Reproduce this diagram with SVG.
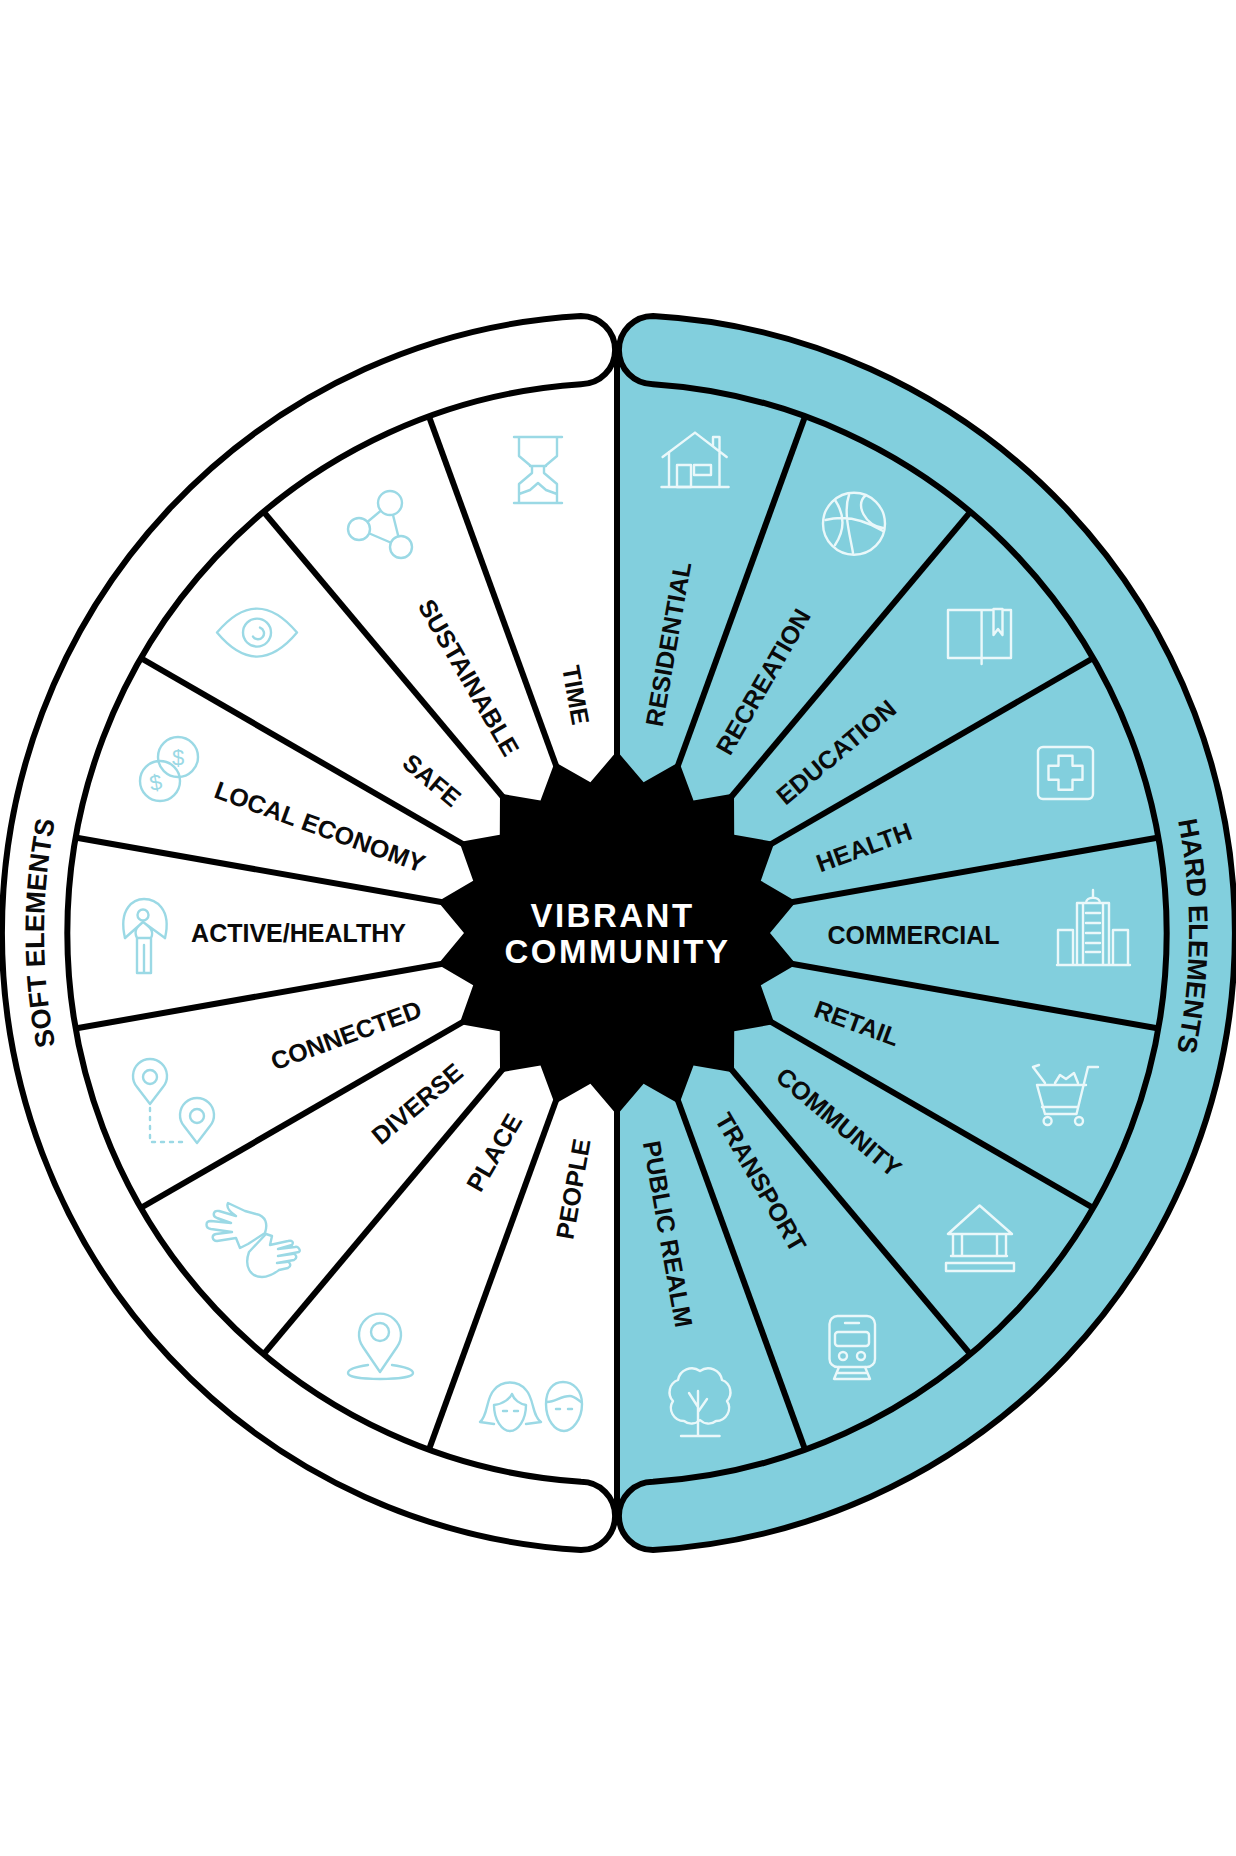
<svg xmlns="http://www.w3.org/2000/svg" width="1236" height="1856" viewBox="0 0 1236 1856">
<style>
.lb{font-family:"Liberation Sans",Arial,sans-serif;font-weight:700;font-size:25px;fill:#0a0a0a;text-anchor:middle}
.band{font-family:"Liberation Sans",Arial,sans-serif;font-weight:700;font-size:27px;fill:#0a0a0a;text-anchor:middle}
.ctr{font-family:"Liberation Sans",Arial,sans-serif;font-weight:700;font-size:33px;letter-spacing:2.5px;fill:#fff;text-anchor:middle}
.bd{stroke:#000;stroke-width:6;stroke-linejoin:round}
.sp{stroke:#000;stroke-width:6;fill:none}
.ic{fill:none;stroke:#9bd9e5;stroke-width:2.4;stroke-linejoin:round;stroke-linecap:round}
.iw{fill:none;stroke:#eaf8fa;stroke-width:2.4;stroke-linejoin:round;stroke-linecap:round}
.dol{font-family:"Liberation Sans",Arial,sans-serif;font-size:22px;fill:#9bd9e5;text-anchor:middle}
</style>
<defs>
<path id="pin" d="M0,27 L-13,10 A17,17 0 1 1 13,10 Z"/>
<path id="softArc" d="M120.8,1219.5 A573,573 0 0 1 120.8,646.5"/>
<path id="hardArc" d="M1112.4,647 A572,572 0 0 1 1112.4,1219"/>
</defs>
<rect width="1236" height="1856" fill="#fff"/>
<path id="hard-disc" d="M617,345 H660 V392 L617,392 Z M617,383 A550,550 0 0 1 617,1483 Z M617,1474 H660 V1521 H617 Z" fill="#82cfdd"/>

<g id="soft-elements">
<path class="bd" fill="#fff" d="M581,316 A614,618 0 0 0 581,1550 A34,34 0 0 0 581,1481.8 A550,550 0 0 1 581,384.2 A34,34 0 0 0 581,316 Z"/>
<text class="band"><textPath href="#softArc" startOffset="50%">SOFT ELEMENTS</textPath></text>
</g>
<g id="hard-elements">
<path class="bd" fill="#82cfdd" d="M653,316 A617,618 0 0 1 653,1550 A34,34 0 0 1 653,1481.8 A550,550 0 0 0 653,384.2 A34,34 0 0 1 653,316 Z"/>
<text class="band"><textPath href="#hardArc" startOffset="50.5%">HARD ELEMENTS</textPath></text>
</g>

<g id="connectors" transform="translate(617,933)">
<line class="sp" x1="0" y1="-170" x2="0" y2="-585"/>
<line class="sp" x1="0" y1="170" x2="0" y2="585"/>
<g class="spokes">
<line class="sp" y1="-170" y2="-550" transform="rotate(20)"/>
<line class="sp" y1="-170" y2="-550" transform="rotate(40)"/>
<line class="sp" y1="-170" y2="-550" transform="rotate(60)"/>
<line class="sp" y1="-170" y2="-550" transform="rotate(80)"/>
<line class="sp" y1="-170" y2="-550" transform="rotate(100)"/>
<line class="sp" y1="-170" y2="-550" transform="rotate(120)"/>
<line class="sp" y1="-170" y2="-550" transform="rotate(140)"/>
<line class="sp" y1="-170" y2="-550" transform="rotate(160)"/>
<line class="sp" y1="-170" y2="-550" transform="rotate(-20)"/>
<line class="sp" y1="-170" y2="-550" transform="rotate(-40)"/>
<line class="sp" y1="-170" y2="-550" transform="rotate(-60)"/>
<line class="sp" y1="-170" y2="-550" transform="rotate(-80)"/>
<line class="sp" y1="-170" y2="-550" transform="rotate(-100)"/>
<line class="sp" y1="-170" y2="-550" transform="rotate(-120)"/>
<line class="sp" y1="-170" y2="-550" transform="rotate(-140)"/>
<line class="sp" y1="-170" y2="-550" transform="rotate(-160)"/>
</g>
</g>

<g id="vibrant-community">
<polygon transform="translate(617,933)" fill="#000" points="0,-182 26.6,-150.7 62.2,-171 76.5,-132.5 117,-139.4 117.2,-98.3 157.6,-91 143.8,-52.3 179.2,-31.6 153,0 179.2,31.6 143.8,52.3 157.6,91 117.2,98.3 117,139.4 76.5,132.5 62.2,171 26.6,150.7 0,182 -26.6,150.7 -62.2,171 -76.5,132.5 -117,139.4 -117.2,98.3 -157.6,91 -143.8,52.3 -179.2,31.6 -153,0 -179.2,-31.6 -143.8,-52.3 -157.6,-91 -117.2,-98.3 -117,-139.4 -76.5,-132.5 -62.2,-171 -26.6,-150.7"/>
<text class="ctr" x="612.5" y="927">VIBRANT</text>
<text class="ctr" x="617.5" y="963">COMMUNITY</text>
</g>

<g id="time">
<text class="lb" transform="translate(576,695) rotate(80)" y="9">TIME</text>
<path class="ic" transform="translate(538,470)" d="M-24,-33 H24 M-24,33 H24 M-19,-33 V-14 L-6,-3 V3 L-19,14 V33 M19,-33 V-14 L6,-3 V3 L19,14 V33 M-8,-4 H8 M-19,24 L-8,20 L0,13 L8,20 L19,24"/>
</g>
<g id="sustainable">
<text class="lb" transform="translate(469,677.5) rotate(60)" y="9">SUSTAINABLE</text>
<g class="ic"><path d="M359,529 L390,503 L401,547 Z"/><circle cx="390" cy="503" r="12" fill="#fff"/><circle cx="359" cy="529" r="11" fill="#fff"/><circle cx="401" cy="547" r="11" fill="#fff"/></g>
</g>
<g id="safe">
<text class="lb" transform="translate(432,780) rotate(40)" y="9">SAFE</text>
<g class="ic" transform="translate(257,632.6)"><path d="M-40,0 Q0,-48 40,0 Q0,48 -40,0 Z"/><circle r="14"/><path d="M3,-5 A6,6 0 1 1 -4,4"/></g>
</g>
<g id="local-economy">
<text class="lb" transform="translate(320,826.5) rotate(20)" y="9">LOCAL ECONOMY</text>
<circle class="ic" cx="160" cy="781" r="20"/><circle class="ic" cx="178" cy="757" r="20" fill="#fff"/>
<text class="dol" x="178" y="765">$</text><text class="dol" transform="translate(157,790) rotate(-10)">$</text>
</g>
<g id="active-healthy">
<text class="lb" x="298.5" y="942">ACTIVE/HEALTHY</text>
<g class="ic"><path d="M125,938 C118,908 134,899 144,899 C155,899 172,908 165,938"/><circle cx="143" cy="915" r="5.5"/><path d="M125,938 L143,922 L165,938 M137,938 C133,930 138,926 143,922 C148,926 155,930 151,938 M137,938 H151 V973 H137 Z M144,945 V973"/></g>
</g>
<g id="connected">
<text class="lb" transform="translate(346,1035) rotate(-20)" y="9">CONNECTED</text>
<g class="ic"><use href="#pin" x="150" y="1077"/><circle cx="150" cy="1077" r="7"/><use href="#pin" x="197" y="1116"/><circle cx="197" cy="1116" r="7"/><path d="M150,1108 V1142 H188" stroke-dasharray="3 6"/></g>
</g>
<g id="diverse">
<text class="lb" transform="translate(417,1103.5) rotate(-40)" y="9">DIVERSE</text>
<g class="ic"><path d="M228,1203 C226,1207 230,1212 236,1216 L219,1211 C213,1210 212,1216 217,1218 L231,1223 L211,1221 C205,1221 205,1228 211,1229 L232,1232 L216,1234 C211,1235 212,1241 217,1241 L236,1238 L240,1248 L248,1244 L265,1233 C268,1224 266,1216 256,1214 L245,1211 Z"/><path d="M249,1252 C244,1266 250,1277 262,1277 C270,1277 275,1273 279,1270 L288,1268 C292,1266 290,1261 286,1262 L277,1263 L294,1260 C298,1258 296,1253 292,1254 L278,1256 L299,1252 C301,1250 298,1246 295,1247 L278,1249 L292,1245 C294,1242 292,1240 288,1241 L270,1245 L272,1236 L266,1234 Z"/></g>
</g>
<g id="place">
<text class="lb" transform="translate(494,1152.4) rotate(-60)" y="9">PLACE</text>
<g class="ic"><path d="M380,1372 L363,1347 A21,21 0 1 1 397,1347 Z"/><circle cx="380" cy="1332" r="9"/><path d="M368,1365 C354,1367 348,1370 348,1373 C348,1377 362,1379 380,1379 C398,1379 413,1377 413,1373 C413,1370 406,1367 392,1365"/></g>
</g>
<g id="people">
<text class="lb" transform="translate(573,1189) rotate(-80)" y="9">PEOPLE</text>
<g class="ic"><path d="M494,1424 L480,1422 C488,1416 486,1398 494,1390 C502,1380 518,1380 526,1390 C534,1398 532,1416 541,1422 L526,1424"/><path d="M494,1405 C494,1420 502,1431 510,1431 C518,1431 526,1420 526,1405 C520,1404 514,1400 512,1394 C510,1398 504,1404 494,1405 Z"/><path d="M503,1411 H507 M514,1411 H518"/><path d="M546,1404 C546,1390 553,1382 563,1382 C573,1382 582,1390 582,1404 C582,1420 572,1431 564,1431 C555,1431 546,1420 546,1404 Z"/><path d="M547,1402 C556,1402 560,1396 570,1396 C574,1396 578,1400 581,1402 M556,1409 H560 M568,1409 H572"/></g>
</g>

<g id="residential">
<text class="lb" transform="translate(668,644) rotate(-80)" y="9">RESIDENTIAL</text>
<g class="iw"><path d="M662.6,457 L695,432.6 L726.7,457 M713,446 V437 H719.5 V451 M669,452 V487 M719.5,452 V487 M661.5,487 H728.6"/><rect x="677" y="465" width="14" height="22"/><rect x="694" y="465" width="17" height="10"/></g>
</g>
<g id="recreation">
<text class="lb" transform="translate(763,681.6) rotate(-60)" y="9">RECREATION</text>
<g class="iw"><circle cx="854" cy="523.7" r="31"/><path d="M849,495 C843,512 850,535 853,553 M825.5,520 C845,515 865,520 883,531 M835,500 C845,515 845,530 835,545 M865,496 C855,505 865,525 883,528"/></g>
</g>
<g id="education">
<text class="lb" transform="translate(836,752) rotate(-40)" y="9">EDUCATION</text>
<g class="iw"><path d="M981.6,658 V610 H948 V658 H1011 V610 H1002.5 M993.5,610 H981.6 M993.5,609 V635 L998,629 L1002.5,635 V609 Z M981.6,658 V664"/></g>
</g>
<g id="health">
<text class="lb" transform="translate(864,847) rotate(-20)" y="9">HEALTH</text>
<g class="iw"><rect x="1038" y="747" width="55" height="52" rx="5"/><path transform="translate(1065.5,772.7)" d="M-7,-17 H7 V-7 H17 V7 H7 V17 H-7 V7 H-17 V-7 H-7 Z"/></g>
</g>
<g id="commercial">
<text class="lb" x="913.5" y="944">COMMERCIAL</text>
<g class="iw"><path d="M1057,965 H1130 M1077,965 V903 H1109 V965 M1083,965 V903 M1103,965 V903 M1086,913 H1100 M1086,923 H1100 M1086,933 H1100 M1086,943 H1100 M1086,952 H1100 M1086,903 C1086,896 1100,896 1100,903 M1093,897 V890 M1058,965 V930 H1073 V965 M1113,965 V930 H1128 V965"/></g>
</g>
<g id="retail">
<text class="lb" transform="translate(857,1023) rotate(20)" y="9">RETAIL</text>
<g class="iw"><path d="M1098,1067 H1088 L1076.5,1114 H1045 L1037,1085 H1086 M1042,1107 H1078 M1033,1067 L1045,1083 M1039,1065 L1033,1067 M1055,1083 L1060,1075 L1066,1079 L1074,1073 L1078,1083"/><circle cx="1047.6" cy="1121" r="4"/><circle cx="1079" cy="1121" r="4"/></g>
</g>
<g id="community">
<text class="lb" transform="translate(839,1122) rotate(40)" y="9">COMMUNITY</text>
<g class="iw"><path d="M948,1234 H1012 L979.6,1205.5 Z M951,1256 H1007 M953,1234 V1256 M962,1234 V1256 M997,1234 V1256 M1006,1234 V1256 M946,1263 H1014 V1271 H946 Z"/></g>
</g>
<g id="transport">
<text class="lb" transform="translate(761,1182) rotate(60)" y="9">TRANSPORT</text>
<g class="iw"><rect x="829.5" y="1316" width="45.5" height="51" rx="8"/><rect x="835" y="1332" width="34" height="14" rx="3"/><path d="M845,1323 H859 M839,1367 L834,1379 M865,1367 L870,1379 M835,1379 H869 M837,1373 H867"/><circle cx="843" cy="1356" r="4"/><circle cx="861" cy="1356" r="4"/></g>
</g>
<g id="public-realm">
<text class="lb" transform="translate(668,1234) rotate(80)" y="9">PUBLIC REALM</text>
<g class="iw"><path d="M684,1421 A13,13 0 0 1 673,1401 A13,13 0 0 1 678,1380 A14,14 0 0 1 700,1371 A14,14 0 0 1 722,1380 A13,13 0 0 1 727,1401 A13,13 0 0 1 716,1421 A12,12 0 0 1 700,1420 A12,12 0 0 1 684,1421 Z"/><path d="M698,1391 V1436 M681,1436 H719.6 M698,1407 L689,1393 M698,1412 L707,1399"/></g>
</g>
</svg>
